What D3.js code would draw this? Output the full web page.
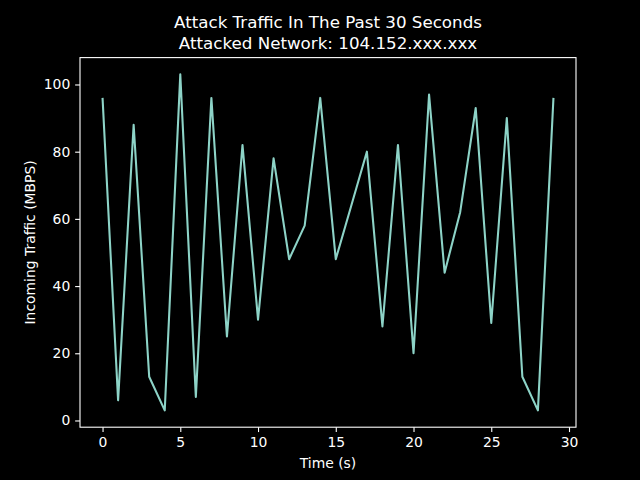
<!DOCTYPE html>
<html>
<head>
<meta charset="utf-8">
<script src="https://cdn.jsdelivr.net/npm/d3@7"></script>
<style>
  html, body { margin: 0; padding: 0; background: #000; }
  svg { display: block; }
  text { font-family: "DejaVu Sans", sans-serif; fill: #fff; }
</style>
</head>
<body>
<svg id="chart" width="640" height="480"></svg>
<script>
const seconds = [0,1,2,3,4,5,6,7,8,9,10,11,12,13,14,15,16,17,18,19,20,21,22,23,24,25,26,27,28,29];
const traffic = [96,6,88,13,3,103,7,96,25,82,30,78,48,58,96,48,64,80,28,82,20,97,44,62,93,29,90,13,3,96];
const xTicks = [0,5,10,15,20,25,30];
const yTicks = [0,20,40,60,80,100];
const titleLines = ["Attack Traffic In The Past 30 Seconds", "Attacked Network: 104.152.xxx.xxx"];
const xLabel = "Time (s)";
const yLabel = "Incoming Traffic (MBPS)";

const W = 640, H = 480;
const mLeft = 80, mRight = 576, mTop = 57.6, mBottom = 427.2;

const svg = d3.select("#chart");
svg.append("rect").attr("width", W).attr("height", H).attr("fill", "#000");

const xMin = d3.min(seconds), xMax = d3.max(seconds);
const xPad = (xMax - xMin) * 0.05;
const yMin = d3.min(traffic), yMax = d3.max(traffic);
const yPad = (yMax - yMin) * 0.05;

const x = d3.scaleLinear().domain([xMin - xPad, xMax + xPad]).range([mLeft, mRight]);
const y = d3.scaleLinear().domain([yMin - yPad, yMax + yPad]).range([mBottom, mTop]);

// line
const line = d3.line().x((d, i) => x(seconds[i])).y(d => y(d));
svg.append("path")
  .datum(traffic)
  .attr("d", line)
  .attr("fill", "none")
  .attr("stroke", "#8dd3c7")
  .attr("stroke-width", 2.08)
  .attr("stroke-linejoin", "round")
  .attr("stroke-linecap", "butt");

// axes
const xAxis = d3.axisBottom(x).tickValues(xTicks).tickSize(4.86).tickPadding(4.86).tickFormat(d3.format("d"));
const yAxis = d3.axisLeft(y).tickValues(yTicks).tickSize(4.86).tickPadding(4.86).tickFormat(d3.format("d"));

const gx = svg.append("g").attr("transform", `translate(0,${mBottom})`).call(xAxis);
const gy = svg.append("g").attr("transform", `translate(${mLeft},0)`).call(yAxis);
[gx, gy].forEach(g => {
  g.select(".domain").remove();
  g.selectAll(".tick line").attr("stroke", "#fff").attr("stroke-width", 1.1);
  g.selectAll(".tick text").attr("fill", "#fff").style("font-size", "13.9px").style("font-family", "DejaVu Sans, sans-serif");
});

// frame
svg.append("rect")
  .attr("x", mLeft).attr("y", mTop)
  .attr("width", mRight - mLeft).attr("height", mBottom - mTop)
  .attr("fill", "none").attr("stroke", "#fff").attr("stroke-width", 1.1);

// title
svg.append("text")
  .attr("x", (mLeft + mRight) / 2).attr("y", 28.3)
  .attr("text-anchor", "middle").style("font-size", "16.7px")
  .text(titleLines[0]);
svg.append("text")
  .attr("x", (mLeft + mRight) / 2).attr("y", 49)
  .attr("text-anchor", "middle").style("font-size", "16.7px")
  .text(titleLines[1]);

// axis labels
svg.append("text")
  .attr("x", (mLeft + mRight) / 2).attr("y", 468)
  .attr("text-anchor", "middle").style("font-size", "13.9px")
  .text(xLabel);
svg.append("text")
  .attr("transform", `translate(35,${(mTop + mBottom) / 2}) rotate(-90)`)
  .attr("text-anchor", "middle").style("font-size", "13.9px")
  .text(yLabel);
</script>
</body>
</html>
